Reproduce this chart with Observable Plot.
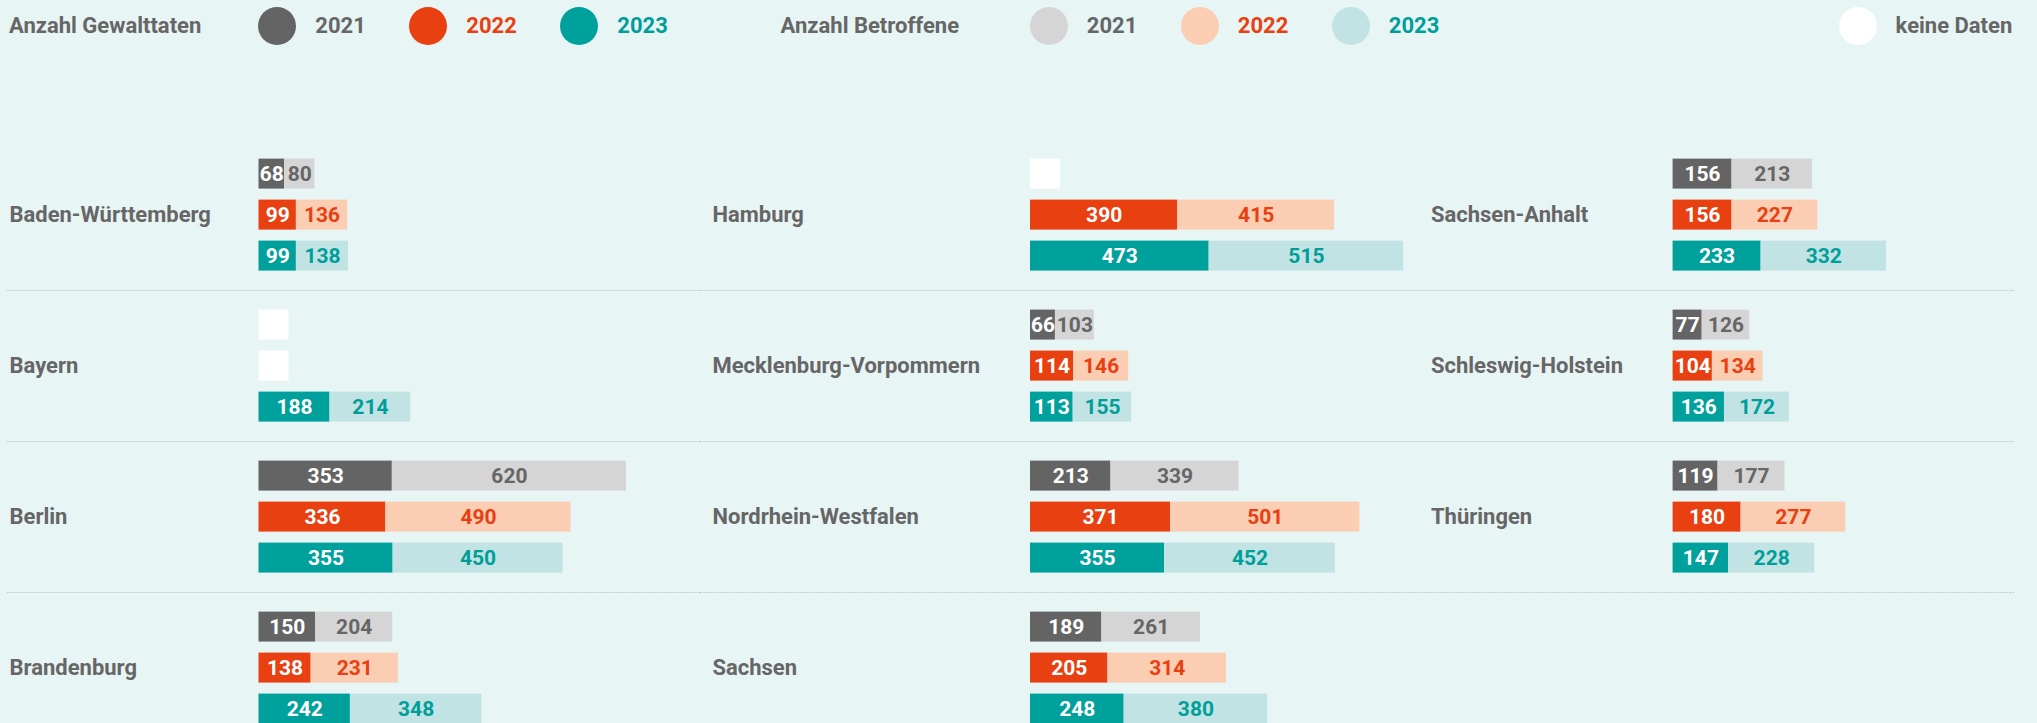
<!DOCTYPE html>
<html><head><meta charset="utf-8">
<script src="https://cdn.jsdelivr.net/npm/d3@7"></script>
<script src="https://cdn.jsdelivr.net/npm/@observablehq/plot@0.6"></script>
<style>
html,body{margin:0;padding:0;background:#e8f5f5;width:2037px;height:723px;overflow:hidden;font-family:Roboto,sans-serif;}
#legend{position:absolute;top:0;left:0;width:2037px;height:51px;}
.lg{position:absolute;top:0;height:51px;display:flex;align-items:center;font-weight:700;font-size:22px;color:#666;white-space:nowrap;}
.dot{width:38px;height:38px;border-radius:50%;margin-right:19px;}
#charts{position:absolute;top:60px;left:0;}
.col{position:absolute;top:0;}
</style></head><body>
<div id="legend"></div><div id="charts"></div>
<script>
// ---- data ----
const states = ["Baden-Württemberg","Bayern","Berlin","Brandenburg","Hamburg","Mecklenburg-Vorpommern","Nordrhein-Westfalen","Sachsen","Sachsen-Anhalt","Schleswig-Holstein","Thüringen"];
const years = ["2021","2022","2023"];
const gewalttaten2021 = [68,null,353,150,null,66,213,189,156,77,119];
const gewalttaten2022 = [99,null,336,138,390,114,371,205,156,104,180];
const gewalttaten2023 = [99,188,355,242,473,113,355,248,233,136,147];
const betroffene2021 = [80,null,620,204,null,103,339,261,213,126,177];
const betroffene2022 = [136,null,490,231,415,146,501,314,227,134,277];
const betroffene2023 = [138,214,450,348,515,155,452,380,332,172,228];
const columnStates = [
  ["Baden-Württemberg","Bayern","Berlin","Brandenburg"],
  ["Hamburg","Mecklenburg-Vorpommern","Nordrhein-Westfalen","Sachsen"],
  ["Sachsen-Anhalt","Schleswig-Holstein","Thüringen"]
];
const legendTitles = ["Anzahl Gewalttaten","Anzahl Betroffene"];
const noDataLabel = "keine Daten";

// ---- styles ----
const darkColors = {"2021":"#646464","2022":"#e84011","2023":"#00a09c"};
const lightColors = {"2021":"#d5d5d5","2022":"#fbcdb3","2023":"#c1e3e3"};
const textColors = {"2021":"#666666","2022":"#e84011","2023":"#009e9a"};

const G = {"2021":gewalttaten2021,"2022":gewalttaten2022,"2023":gewalttaten2023};
const B = {"2021":betroffene2021,"2022":betroffene2022,"2023":betroffene2023};

const segments = [], missing = [];
states.forEach((s,i)=>{
  years.forEach(y=>{
    const g = G[y][i], b = B[y][i];
    if (g == null) { missing.push({state:s, year:y}); return; }
    segments.push({state:s, year:y, value:g, x1:0, x2:g, key:y+" G", tkey:"white"});
    segments.push({state:s, year:y, value:b, x1:g, x2:g+b, key:y+" B", tkey:y+" T"});
  });
});
const colorDomain = [], colorRange = [];
years.forEach(y=>{
  colorDomain.push(y+" G", y+" B", y+" T");
  colorRange.push(darkColors[y], lightColors[y], textColors[y]);
});
colorDomain.push("white"); colorRange.push("#ffffff");

// ---- legend ----
const legend = document.getElementById("legend");
function addLg(left, html){const d=document.createElement("div");d.className="lg";d.style.left=left+"px";d.innerHTML=html;legend.appendChild(d);}
const lgLayout = [{titleLeft:9, firstLeft:258.3, colors:darkColors},{titleLeft:780.6, firstLeft:1029.8, colors:lightColors}];
lgLayout.forEach((L,gi)=>{
  addLg(L.titleLeft, legendTitles[gi]);
  years.forEach((y,j)=>{
    addLg(L.firstLeft + j*151, `<div class="dot" style="background:${L.colors[y]}"></div><span style="color:${textColors[y]}">${y}</span>`);
  });
});
addLg(1838.6, `<div class="dot" style="background:#fff"></div><span>${noDataLabel}</span>`);

// ---- charts ----
const k = 0.3777;           // px per unit, shared by all columns
const blockH = 151.3, marginTop = 78.4;
const colLayout = [
  {left:0,    width:700, marginLeft:7, marginRight:0,  barStart:258.5, labelDx:2},
  {left:700,  width:720, marginLeft:0, marginRight:0,  barStart:330,   labelDx:12},
  {left:1420, width:617, marginLeft:0, marginRight:24, barStart:252.6, labelDx:10.5}
];
const charts = document.getElementById("charts");
columnStates.forEach((cs,ci)=>{
  const L = colLayout[ci];
  const segs = segments.filter(d=>cs.includes(d.state));
  const miss = missing.filter(d=>cs.includes(d.state));
  const chart = Plot.plot({
    width: L.width,
    height: marginTop + cs.length*blockH,
    marginTop, marginBottom:0, marginLeft:L.marginLeft, marginRight:L.marginRight,
    style:{background:"transparent", fontFamily:"Roboto, sans-serif", overflow:"visible"},
    x:{domain:[0,1000], range:[L.barStart, L.barStart+1000*k], axis:null},
    y:{domain:years, paddingInner:0.27, paddingOuter:0.45, axis:null},
    fy:{domain:cs, padding:0, axis:null},
    color:{domain:colorDomain, range:colorRange},
    marks:[
      Plot.frame({anchor:"bottom", stroke:"#c2cbcb", strokeDasharray:"1,2.2", strokeWidth:1}),
      Plot.barX(miss, {x1:d=>0, x2:d=>0, y:"year", fy:"state", fill:"#ffffff", insetRight:-30}),
      Plot.barX(segs, {x1:"x1", x2:"x2", y:"year", fy:"state", fill:"key"}),
      Plot.text(segs, {x:d=>(d.x1+d.x2)/2, y:"year", fy:"state", text:"value", fill:"tkey", fontSize:21, fontWeight:700}),
      Plot.text(cs, {fy:d=>d, text:d=>d, frameAnchor:"left", textAnchor:"start", dx:L.labelDx, fill:"#666666", fontSize:22, fontWeight:700})
    ]
  });
  const wrap = document.createElement("div");
  wrap.className="col"; wrap.style.left=L.left+"px"; wrap.style.width=L.width+"px";
  wrap.appendChild(chart);
  charts.appendChild(wrap);
});
</script>
</body></html>
